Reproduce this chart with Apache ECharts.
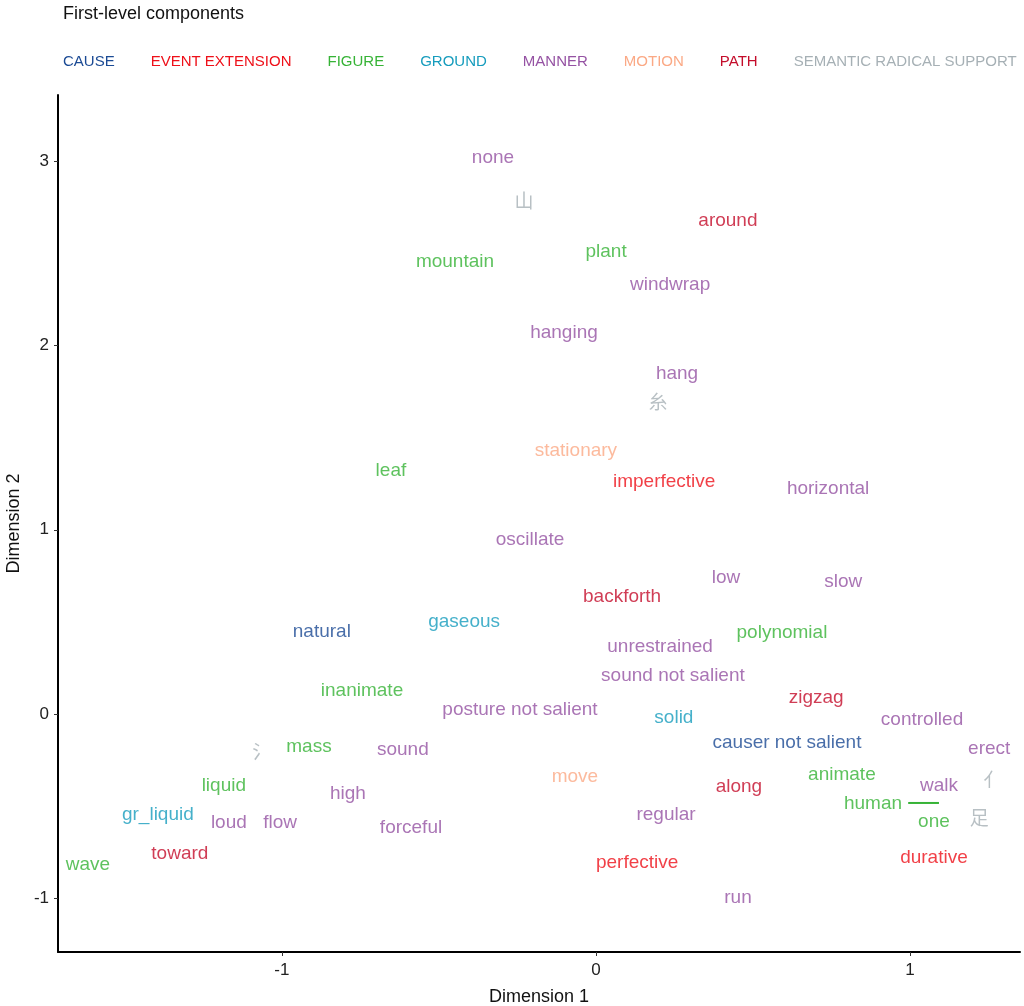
<!DOCTYPE html>
<html>
<head>
    <meta charset="utf-8">
    <title>First-level components</title>
    <script src="https://cdn.jsdelivr.net/npm/echarts@6/dist/echarts.min.js"></script>
</head>
<body style="margin:0">
<div id="main" style="width: 1024px;height:1006px;"></div>
<script type="text/javascript">
    // component names and colours (legend order)
    var components = ['CAUSE', 'EVENT EXTENSION', 'FIGURE', 'GROUND', 'MANNER', 'MOTION', 'PATH', 'SEMANTIC RADICAL SUPPORT'];
    var colors = ['#1b4a94', '#ee1019', '#36b336', '#169cbd', '#9552a3', '#fba985', '#c40d2b', '#a6b0b5'];

    // [dim1, dim2, label] per component
    var cause = [[-0.873, 0.445, 'natural'], [0.608, -0.157, 'causer not salient']];
    var eventExtension = [[0.217, 1.259, 'imperfective'], [0.131, -0.809, 'perfective'], [1.076, -0.782, 'durative']];
    var figure = [
        [0.032, 2.507, 'plant'], [-0.449, 2.453, 'mountain'], [-0.653, 1.319, 'leaf'],
        [0.592, 0.440, 'polynomial'], [-0.745, 0.125, 'inanimate'], [-0.914, -0.179, 'mass'],
        [0.783, -0.331, 'animate'], [-1.185, -0.391, 'liquid'], [0.882, -0.488, 'human'],
        [1.076, -0.586, 'one'], [-1.618, -0.820, 'wave']
    ];
    var ground = [[-0.420, 0.499, 'gaseous'], [0.248, -0.022, 'solid'], [-1.395, -0.548, 'gr_liquid']];
    var manner = [
        [-0.328, 3.018, 'none'], [0.236, 2.328, 'windwrap'], [-0.102, 2.068, 'hanging'],
        [0.258, 1.845, 'hang'], [0.739, 1.221, 'horizontal'], [-0.210, 0.944, 'oscillate'],
        [0.414, 0.738, 'low'], [0.787, 0.716, 'slow'], [0.204, 0.364, 'unrestrained'],
        [0.245, 0.206, 'sound not salient'], [-0.242, 0.022, 'posture not salient'],
        [1.038, -0.033, 'controlled'], [1.252, -0.190, 'erect'], [-0.615, -0.195, 'sound'],
        [1.092, -0.391, 'walk'], [-0.790, -0.434, 'high'], [-1.169, -0.592, 'loud'],
        [-1.006, -0.592, 'flow'], [-0.589, -0.619, 'forceful'], [0.223, -0.548, 'regular'],
        [0.452, -0.999, 'run']
    ];
    var motion = [[-0.064, 1.427, 'stationary'], [-0.067, -0.342, 'move']];
    var path = [[0.420, 2.676, 'around'], [0.083, 0.635, 'backforth'], [0.701, 0.087, 'zigzag'],
        [0.455, -0.396, 'along'], [-1.325, -0.760, 'toward']];
    var radical = [[-0.229, 2.784, '山'], [0.197, 1.693, '糸'], [-1.064, -0.206, '氵'],
        [1.264, -0.358, '亻'], [1.220, -0.564, '足']];

    // repel segment next to "one"
    var oneSegment = [[0.994, -0.483], [1.092, -0.483]];

    var groups = [cause, eventExtension, figure, ground, manner, motion, path, radical];
    var xTicks = [-1, 0, 1];
    var yTicks = [-1, 0, 1, 2, 3];

    var myChart = echarts.init(document.getElementById('main'));

    var series = groups.map(function (g, i) {
        return {
            name: components[i],
            type: 'scatter',
            symbolSize: 0,
            data: g,
            itemStyle: {color: colors[i]},
            label: {
                show: true,
                position: 'inside',
                formatter: function (p) { return p.value[2]; },
                color: colors[i],
                fontSize: 19,
                fontFamily: i === 7 ? 'Noto Sans CJK SC' : 'Liberation Sans'
            },
            silent: true
        };
    });
    series.push({
        type: 'line',
        data: oneSegment,
        symbol: 'none',
        lineStyle: {color: colors[2], width: 2},
        silent: true
    });

    var axisCommon = {
        type: 'value',
        splitLine: {show: false},
        axisLine: {show: true, onZero: false, lineStyle: {color: '#000', width: 2}},
        axisTick: {show: true, length: 4, lineStyle: {color: '#333'}},
        axisLabel: {color: '#222', fontSize: 17, fontFamily: 'Liberation Sans'},
        nameLocation: 'middle',
        nameTextStyle: {color: '#111', fontSize: 18, fontFamily: 'Liberation Sans'}
    };

    var option = {
        animation: false,
        backgroundColor: '#fff',
        title: {
            text: 'First-level components',
            left: 58,
            top: 0,
            textStyle: {color: '#111', fontSize: 18, fontWeight: 'normal', fontFamily: 'Liberation Sans'}
        },
        legend: {
            left: 53,
            top: 49,
            width: 1000,
            icon: 'rect',
            itemWidth: 0,
            itemHeight: 0,
            itemGap: 31,
            selectedMode: false,
            data: components.map(function (c, i) {
                return {name: c, textStyle: {color: colors[i], fontSize: 15, fontFamily: 'Liberation Sans'}};
            })
        },
        grid: {left: 58, right: 4, top: 95, bottom: 54, outerBoundsMode: 'none', containLabel: false},
        xAxis: Object.assign({}, axisCommon, {
            min: -1.713, max: 1.350,
            name: 'Dimension 1', nameGap: 36,
            axisTick: Object.assign({}, axisCommon.axisTick, {customValues: xTicks}),
            axisLabel: Object.assign({}, axisCommon.axisLabel, {customValues: xTicks, margin: 10})
        }),
        yAxis: Object.assign({}, axisCommon, {
            min: -1.292, max: 3.36,
            name: 'Dimension 2', nameGap: 33, nameRotate: 90,
            axisTick: Object.assign({}, axisCommon.axisTick, {customValues: yTicks}),
            axisLabel: Object.assign({}, axisCommon.axisLabel, {customValues: yTicks, margin: 9})
        }),
        series: series
    };

    myChart.setOption(option);
</script>
</body>
</html>
